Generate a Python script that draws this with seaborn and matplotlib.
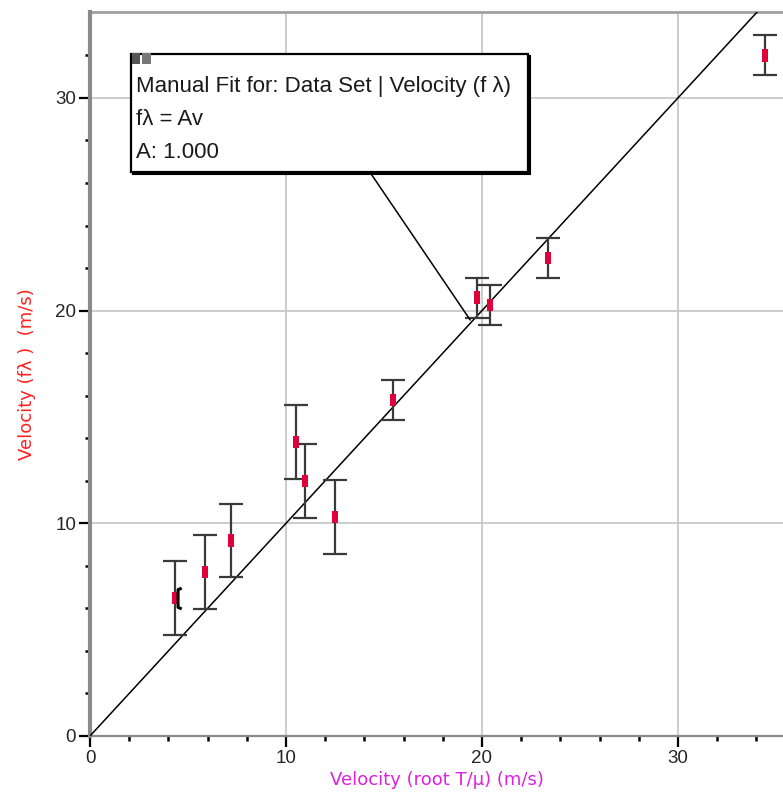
import matplotlib
matplotlib.use("Agg")
import matplotlib.pyplot as plt
from matplotlib.path import Path
import seaborn as sns
import numpy as np
import pandas as pd

# ---- data ----
v_root = [4.34, 5.87, 7.19, 10.51, 10.97, 12.50, 15.46, 19.74, 20.40, 23.37, 34.44]
v_flam = [6.49, 7.71, 9.21, 13.82, 11.99, 10.30, 15.80, 20.60, 20.26, 22.47, 32.00]
v_err = [1.72, 1.74, 1.72, 1.74, 1.74, 1.74, 0.93, 0.93, 0.94, 0.94, 0.94]
fit_A = 1.000
fit_x = [0.0, 40.0]
x_ticks = [0, 10, 20, 30]
y_ticks = [0, 10, 20, 30]
box_lines = ["Manual Fit for: Data Set | Velocity (f \u03bb)", "f\u03bb = Av", "A: 1.000"]
x_label = "Velocity (root T/\u03bc) (m/s)"
y_label = "Velocity (f\u03bb )  (m/s)"

df = pd.DataFrame({"x": v_root, "y": v_flam, "err": v_err})
fit_df = pd.DataFrame({"x": fit_x, "y": [fit_A * v for v in fit_x]})

sns.set_theme(style="white")
plt.rcParams["font.family"] = ["Liberation Sans", "DejaVu Sans"]

fig = plt.figure(figsize=(7.83, 7.98), dpi=100)
ax = fig.add_axes([90 / 783, 62 / 798, 1 - 90 / 783, (736 - 12) / 798])
ax.set_xlim(0, 35.36)
ax.set_ylim(0, 34.04)

# grid
for t in x_ticks[1:]:
    ax.axvline(t, color="#c8c8c8", lw=1.3, zorder=0)
for t in y_ticks[1:]:
    ax.axhline(t, color="#c8c8c8", lw=1.3, zorder=0)

# fit line
sns.lineplot(data=fit_df, x="x", y="y", ax=ax, color="black", lw=1.1, zorder=3)

# error bars
ax.errorbar(df["x"], df["y"], yerr=df["err"], fmt="none", ecolor="#3a3a3a",
            elinewidth=1.6, capsize=8.5, capthick=1.6, zorder=4)

# markers
rect = [(-1, -2), (1, -2), (1, 2), (-1, 2), (-1, -2)]
sns.scatterplot(data=df, x="x", y="y", ax=ax, marker=rect, s=85, color="#e0003a",
                edgecolor="none", linewidth=0, zorder=5)

# selection bracket on first point
brk = Path([(1.0, -2.0), (0.3, -1.7), (0.3, 1.7), (1.0, 2.0)])
ax.plot(df["x"].iloc[:1] + 0.05, df["y"].iloc[:1], linestyle="none", marker=brk,
        markersize=15, markerfacecolor="none", markeredgecolor="black",
        markeredgewidth=2.2, zorder=6)

# annotation box + leader line
ax.plot([14.29, 19.4], [26.5, 19.56], color="black", lw=1.1, zorder=6)
bx0, bx1 = (131 - 90) / 19.6, (528 - 90) / 19.6
by0, by1 = (736 - 172) / 21.27, (736 - 54) / 21.27
ax.add_patch(plt.Rectangle((bx0 + 0.08, by0 - 0.08), bx1 - bx0, by1 - by0,
                           facecolor="black", edgecolor="black", lw=1.5, zorder=7))
ax.add_patch(plt.Rectangle((bx0, by0), bx1 - bx0, by1 - by0, facecolor="white",
                           edgecolor="black", lw=1.6, zorder=7))
ax.add_patch(plt.Rectangle((bx0 + 0.05, by1 - 0.45), 0.4, 0.5, facecolor="#555555",
                           edgecolor="none", zorder=8))
ax.add_patch(plt.Rectangle((bx0 + 0.55, by1 - 0.45), 0.45, 0.5, facecolor="#777777",
                           edgecolor="none", zorder=8))
tys = [(736 - 86) / 21.27, (736 - 119) / 21.27, (736 - 152) / 21.27]
for s, ty in zip(box_lines, tys):
    ax.text(bx0 + 0.28, ty, s, fontsize=16, color="#1a1a1a", va="center",
            ha="left", zorder=9)

# spines
for s in ["top", "right"]:
    ax.spines[s].set_visible(False)
ax.spines["left"].set_color("#8a8a8a")
ax.spines["left"].set_linewidth(3)
ax.spines["bottom"].set_color("#8a8a8a")
ax.spines["bottom"].set_linewidth(1.6)
ax.axhline(34.04, color="#a0a0a0", lw=2, zorder=1, clip_on=False)

ax.set_xticks(x_ticks)
ax.set_yticks(y_ticks)
ax.set_xticks(np.arange(0, 36, 2), minor=True)
ax.set_yticks(np.arange(0, 34, 2), minor=True)
ax.tick_params(which="major", direction="out", length=8, width=1.6, color="black",
               labelsize=13.5, pad=2)
ax.tick_params(which="minor", direction="out", length=3.5, width=1.8, color="black")
ax.tick_params(axis="x", which="both", bottom=True)
ax.tick_params(axis="y", which="both", left=True)

ax.set_xlabel(x_label, color="#e020e0", fontsize=13, labelpad=3,
              fontfamily=["DejaVu Sans"])
ax.set_ylabel(y_label, color="#ff2020", fontsize=13, labelpad=14,
              fontfamily=["DejaVu Sans"])

fig.savefig("out.png", dpi=100)
